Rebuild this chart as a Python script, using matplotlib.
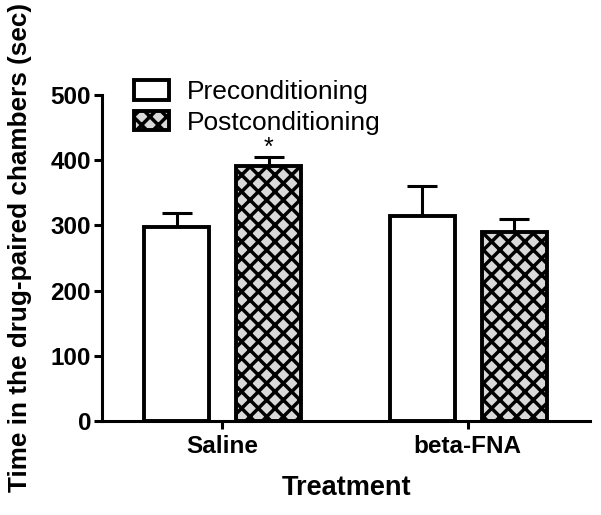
import numpy as np
import matplotlib.pyplot as plt

plt.rcParams['font.family'] = ['Liberation Sans', 'DejaVu Sans']
plt.rcParams['hatch.linewidth'] = 2.5

# Data
groups = ['Saline', 'beta-FNA']
series = ['Preconditioning', 'Postconditioning']
pre_mean = [297, 314]
pre_err = [22, 46]
post_mean = [391, 290]
post_err = [14, 20]

x = np.arange(len(groups))
width = 0.265

fig = plt.figure(figsize=(6.01, 5.15), dpi=100)
ax = fig.add_axes([0.170, 0.1825, 0.812, 0.633])

ax.bar(x - 0.185, pre_mean, width, color='white', edgecolor='black',
       linewidth=2.8, label=series[0], zorder=2)
ax.errorbar(x - 0.185, pre_mean, yerr=[np.zeros(2), pre_err], fmt='none',
            ecolor='black', elinewidth=2.2, capsize=11, capthick=2.2, zorder=1)

ax.bar(x + 0.19, post_mean, width, color='#d9d9d9', edgecolor='black',
       hatch='xx', linewidth=2.8, label=series[1], zorder=2)
ax.errorbar(x + 0.19, post_mean, yerr=[np.zeros(2), post_err], fmt='none',
            ecolor='black', elinewidth=2.2, capsize=11, capthick=2.2, zorder=1)

# significance star
ax.text(x[0] + 0.19, post_mean[0] + post_err[0] - 4, '*', ha='center',
        va='bottom', fontsize=18)

ax.set_xlim(-0.49, 1.50)
ax.set_ylim(0, 500)
ax.set_yticks([0, 100, 200, 300, 400, 500])
ax.set_xticks(x)
ax.set_xticklabels(groups)
for lab in ax.get_xticklabels() + ax.get_yticklabels():
    lab.set_fontweight('bold')
    lab.set_fontsize(17.5)

ax.spines['top'].set_visible(False)
ax.spines['right'].set_visible(False)
ax.spines['left'].set_linewidth(2.2)
ax.spines['bottom'].set_linewidth(2.2)
ax.tick_params(width=2.2, length=6, pad=2)
ax.tick_params(axis='x', pad=4)

ax.set_xlabel('Treatment', fontsize=19.5, fontweight='bold', labelpad=12)
fig.text(0.034, 0.519, 'Time in the drug-paired chambers (sec)', fontsize=18.8,
         fontweight='bold', rotation=90, ha='center', va='center')

leg = ax.legend(loc='upper left', bbox_to_anchor=(0.205, 0.865),
                bbox_transform=fig.transFigure, frameon=False, fontsize=19,
                handlelength=1.35, handleheight=0.75, handletextpad=0.65,
                labelspacing=0.25, borderaxespad=0)

plt.savefig('out.png', dpi=100)
